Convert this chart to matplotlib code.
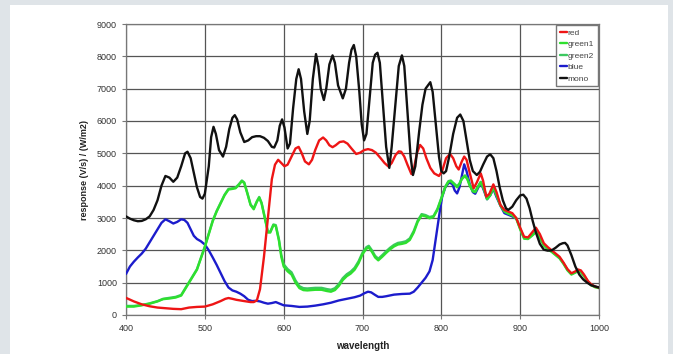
import matplotlib
matplotlib.use("Agg")
import matplotlib.pyplot as plt
from matplotlib.patches import Rectangle

plt.rcParams["font.family"] = ["Liberation Sans", "DejaVu Sans"]

# ---- data ----
mono_wl = [400, 405, 410, 415, 420, 425, 430, 435, 440, 445, 450, 455, 460, 465, 470, 475, 478,
           482, 486, 490, 494, 497, 500, 505, 508, 511, 514, 518, 523, 527, 531, 535, 538, 541,
           545, 550, 555, 560, 565, 570, 575, 580, 585, 588, 592, 595, 598, 601, 605, 608, 612,
           616, 619, 622, 626, 630, 633, 637, 641, 644, 647, 651, 654, 658, 662, 665, 669, 675,
           679, 683, 686, 689, 692, 696, 699, 702, 705, 709, 713, 716, 719, 722, 726, 730, 734,
           737, 742, 746, 750, 753, 757, 761, 764, 767, 772, 776, 780, 786, 789, 793, 797, 800,
           803, 806, 810, 815, 820, 824, 828, 832, 836, 840, 845, 849, 853, 858, 862, 866, 870,
           874, 878, 882, 885, 890, 895, 900, 904, 908, 912, 916, 920, 925, 930, 935, 940, 945,
           950, 954, 957, 960, 965, 970, 975, 980, 985, 990, 1000]
mono = [3050, 2980, 2930, 2900, 2910, 2960, 3050, 3250, 3550, 4000, 4300, 4250, 4120, 4250, 4600,
        5000, 5050, 4850, 4400, 3950, 3650, 3600, 3750, 4600, 5500, 5820, 5600, 5100, 4900, 5200,
        5750, 6100, 6180, 6050, 5650, 5350, 5400, 5500, 5530, 5530, 5480, 5380, 5200, 5180, 5400,
        5850, 6050, 5800, 5150, 5300, 6400, 7300, 7600, 7300, 6300, 5600, 6000, 7300, 8070, 7700,
        7000, 6650, 7000, 7750, 8030, 7800, 7100, 6700, 7000, 7800, 8200, 8350, 8000, 6900, 5900,
        5400, 5600, 6700, 7800, 8050, 8110, 7800, 6500, 5200, 4550, 5200, 6600, 7700, 8030, 7700,
        6300, 4900, 4330, 4600, 5700, 6500, 7000, 7200, 6900, 5900, 4900, 4450, 4380, 4450, 4900,
        5600, 6100, 6200, 6000, 5400, 4800, 4450, 4330, 4430, 4650, 4900, 4970, 4850, 4450, 3950,
        3550, 3300, 3250, 3350, 3550, 3700, 3720, 3600, 3300, 2900, 2550, 2200, 2020, 1990, 2000,
        2080, 2180, 2220, 2230, 2150, 1850, 1500, 1250, 1100, 1000, 920, 850]

red_wl = [400, 410, 420, 430, 440, 450, 460, 470, 480, 490, 500, 510, 520, 526, 530, 535, 540,
          550, 558, 562, 566, 570, 575, 580, 585, 589, 593, 597, 601, 605, 610, 615, 619, 623,
          627, 632, 636, 640, 645, 650, 654, 658, 662, 666, 671, 676, 681, 686, 692, 697, 702,
          707, 712, 717, 723, 728, 733, 737, 742, 746, 749, 753, 757, 762, 765, 769, 773, 777,
          781, 786, 791, 797, 801, 806, 811, 815, 819, 822, 826, 829, 832, 836, 841, 845, 850,
          853, 857, 861, 866, 870, 875, 880, 885, 890, 895, 900, 905, 910, 915, 920, 925, 930,
          935, 940, 945, 950, 955, 960, 965, 970, 973, 977, 981, 986, 990, 995, 1000]
red = [530, 420, 330, 270, 230, 210, 190, 180, 230, 250, 260, 330, 430, 500, 525, 500, 470,
       430, 400, 400, 450, 800, 1800, 3000, 4200, 4650, 4800, 4700, 4600, 4650, 4900, 5150, 5200,
       5000, 4750, 4660, 4800, 5100, 5400, 5490, 5400, 5250, 5190, 5250, 5350, 5370, 5300, 5150,
       4980, 5020, 5100, 5130, 5100, 5020, 4850, 4700, 4590, 4700, 4950, 5060, 5050, 4900, 4650,
       4360, 4500, 5000, 5260, 5150, 4850, 4550, 4380, 4300, 4450, 4850, 4980, 4850, 4600, 4500,
       4750, 4900, 4800, 4400, 3920, 4100, 4380, 4150, 3660, 3750, 4040, 3800, 3400, 3250, 3200,
       3150, 3000, 2700, 2420, 2400, 2550, 2700, 2500, 2220, 2100, 2000, 1900, 1800, 1620, 1420,
       1290, 1350, 1410, 1380, 1250, 1050, 950, 880, 850]

green_wl = [400, 410, 420, 430, 440, 447, 455, 463, 470, 475, 480, 490, 500, 505, 510, 515, 520,
            525, 530, 535, 539, 543, 547, 550, 554, 558, 562, 566, 569, 572, 576, 580, 583, 587,
            590, 594, 597, 600, 605, 610, 615, 620, 625, 630, 640, 648, 655, 660, 665, 670, 675,
            680, 685, 690, 695, 700, 705, 708, 712, 716, 720, 725, 730, 735, 740, 745, 750, 755,
            760, 765, 770, 775, 780, 785, 790, 795, 800, 805, 809, 812, 816, 820, 823, 826, 830,
            833, 836, 840, 843, 847, 850, 854, 858, 862, 866, 870, 875, 880, 885, 890, 895, 900,
            905, 910, 915, 920, 925, 930, 935, 940, 945, 950, 955, 960, 965, 970, 973, 977, 981,
            986, 990, 995, 1000]
green1 = [260, 260, 300, 350, 420, 490, 510, 540, 600, 800, 1000, 1400, 2100, 2500, 2900, 3200,
          3450, 3700, 3880, 3900, 3920, 4020, 4140, 4080, 3750, 3400, 3270, 3500, 3630, 3450, 3000,
          2550, 2550, 2780, 2750, 2300, 1800, 1500, 1350, 1250, 1000, 830, 770, 760, 780, 780, 740,
          720, 770, 900, 1080, 1200, 1280, 1400, 1600, 1880, 2050, 2090, 1950, 1780, 1690, 1800,
          1920, 2030, 2120, 2180, 2200, 2230, 2320, 2550, 2880, 3080, 3050, 2990, 3030, 3250, 3600,
          3950, 4120, 4140, 4050, 3950, 4050, 4200, 4300, 4200, 4000, 3820, 3800, 3980, 4100, 3900,
          3580, 3700, 3930, 3700, 3380, 3200, 3130, 3080, 2980, 2650, 2360, 2350, 2450, 2560, 2380,
          2150, 2030, 1950, 1850, 1750, 1580, 1380, 1250, 1310, 1350, 1320, 1200, 1020, 920, 860,
          830]
green2 = [280, 280, 310, 360, 430, 500, 530, 560, 620, 820, 1020, 1420, 2120, 2520, 2920, 3220,
          3470, 3720, 3900, 3920, 3940, 4040, 4160, 4100, 3770, 3420, 3300, 3520, 3650, 3470, 3030,
          2580, 2580, 2800, 2780, 2340, 1860, 1570, 1420, 1320, 1070, 890, 830, 820, 840, 840, 800,
          780, 830, 960, 1140, 1260, 1340, 1460, 1660, 1930, 2100, 2140, 2000, 1830, 1740, 1850,
          1970, 2080, 2170, 2230, 2250, 2280, 2370, 2600, 2920, 3120, 3090, 3030, 3060, 3280, 3620,
          3970, 4140, 4160, 4070, 3980, 4070, 4220, 4320, 4220, 4020, 3850, 3830, 4000, 4120, 3920,
          3610, 3720, 3950, 3720, 3400, 3220, 3150, 3100, 3000, 2670, 2380, 2370, 2470, 2580, 2400,
          2170, 2050, 1970, 1870, 1770, 1600, 1400, 1270, 1330, 1370, 1340, 1220, 1040, 940, 870,
          840]

blue_wl = [400, 405, 410, 415, 420, 425, 430, 435, 440, 445, 450, 455, 460, 465, 470, 474, 478,
           482, 486, 490, 495, 500, 505, 510, 515, 520, 525, 530, 535, 540, 545, 550, 555, 560,
           565, 570, 575, 580, 585, 590, 595, 600, 610, 620, 630, 640, 650, 660, 670, 680, 690,
           697, 703, 707, 711, 716, 720, 725, 730, 740, 750, 760, 765, 770, 775, 780, 785, 789,
           792, 795, 798, 801, 805, 810, 814, 817, 820, 823, 826, 829, 832, 836, 840, 843, 847,
           850, 854, 858, 862, 866, 870, 875, 880, 885, 890, 895]
blue = [1270, 1500, 1650, 1780, 1900, 2050, 2250, 2450, 2650, 2850, 2960, 2900, 2830, 2880, 2960,
        2940, 2850, 2650, 2450, 2350, 2280, 2180, 2000, 1780, 1550, 1300, 1050, 850, 760, 720,
        660, 580, 470, 430, 440, 420, 380, 350, 370, 400, 350, 300, 280, 250, 260, 290, 330, 380,
        450, 500, 550, 600, 680, 720, 700, 620, 560, 560, 580, 630, 650, 660, 720, 850, 1000,
        1150, 1350, 1700, 2200, 2700, 3200, 3650, 3950, 4100, 4050, 3850, 3760, 3950, 4300, 4660,
        4450, 4050, 3800, 3750, 3950, 4100, 3850, 3580, 3700, 3900, 3650, 3380, 3150, 3100, 3050,
        2980]

fig = plt.figure(figsize=(6.73, 3.54), dpi=100)
fig.patch.set_facecolor("#dfe4e8")
fig.patches.append(Rectangle((10 / 673, 0), 658 / 673, 349 / 354, transform=fig.transFigure,
                             facecolor="white", edgecolor="none", zorder=-1))

ax = fig.add_axes([126 / 673, 1 - 315 / 354, 473 / 673, 291 / 354])
ax.set_facecolor("white")

style = dict(lw=1.7, solid_joinstyle="round", solid_capstyle="round")
ax.plot(blue_wl, blue, color="#1c1ccc", label="blue", zorder=3, **style)
ax.plot(green_wl, green2, color="#3cc860", label="green2", zorder=4, **style)
ax.plot(green_wl, green1, color="#2ee02e", label="green1", zorder=5, **style)
ax.plot(red_wl, red, color="#ee1515", label="red", zorder=6, **style)
ax.plot(mono_wl, mono, color="#111111", label="mono", zorder=7, **style)

ax.set_xlim(400, 1000)
ax.set_ylim(0, 9000)
ax.set_xticks(range(400, 1001, 100))
ax.set_yticks(range(0, 9001, 1000))
ax.grid(True, color="#555555", lw=0.9)
ax.set_axisbelow(True)
for s in ax.spines.values():
    s.set_color("#777777")
    s.set_linewidth(0.9)
ax.tick_params(axis="both", labelsize=6.5, labelcolor="#333333", color="#777777",
               length=3, width=0.8, direction="out")

ax.set_xlabel("wavelength", fontsize=7, fontweight="bold", color="#222222", labelpad=6)
ax.set_ylabel("response (V/s) / (W/m2)", fontsize=6.5, fontweight="bold", color="#222222",
              labelpad=6)

handles, labels = ax.get_legend_handles_labels()
order = ["red", "green1", "green2", "blue", "mono"]
hmap = dict(zip(labels, handles))
leg = ax.legend([hmap[k] for k in order], order, loc="upper right", fontsize=6,
                frameon=True, fancybox=False, edgecolor="#777777", framealpha=1,
                handlelength=0.9, handletextpad=0.1, borderpad=0.4, labelspacing=0.45,
                bbox_to_anchor=(0.997, 0.995), borderaxespad=0)
for t in leg.get_texts():
    t.set_color("#444444")

fig.savefig("out.png", dpi=100)
